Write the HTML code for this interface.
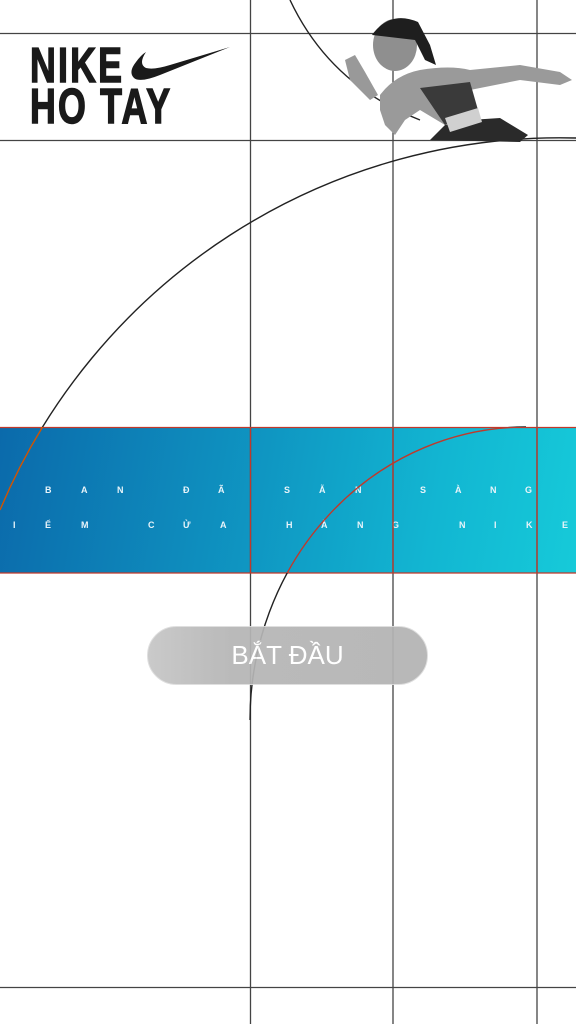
<!DOCTYPE html>
<html><head><meta charset="utf-8"><style>
html,body{margin:0;padding:0;background:#fff;}
#root{position:relative;width:576px;height:1024px;overflow:hidden;background:#fff;font-family:"Liberation Sans",sans-serif;}
.band{position:absolute;left:0;top:427px;width:576px;height:146px;background:linear-gradient(100deg,#0b6aab 0%,#0f96c2 45%,#12b6d2 75%,#16cad9 100%);}
.row{position:absolute;left:0;width:576px;color:#e8f4fa;font-size:9px;font-weight:bold;white-space:nowrap;}
.logo{position:absolute;left:30px;top:46px;font-family:"Liberation Sans",sans-serif;font-weight:bold;font-size:49px;line-height:41px;letter-spacing:3px;color:#1a1a1a;transform:scaleX(0.73);transform-origin:left top;white-space:nowrap;-webkit-text-stroke:1.5px #1a1a1a;}
.btn{position:absolute;left:147px;top:626px;width:281px;height:59px;border-radius:30px;background:linear-gradient(90deg,#c6c6c6 0%,#b5b5b5 30%,#b3b3b3 100%);opacity:0.93;border:1px solid #ddd;box-sizing:border-box;color:#fff;font-size:26px;text-align:center;line-height:57px;}
</style></head><body>
<div id="root">
<div class="band">
 <div class="row" style="top:58px">
  <span style="position:absolute;left:45px">B</span><span style="position:absolute;left:81px">A</span><span style="position:absolute;left:117px">N</span>
  <span style="position:absolute;left:183px">Đ</span><span style="position:absolute;left:218px">Ã</span>
  <span style="position:absolute;left:284px">S</span><span style="position:absolute;left:319px">Ẵ</span><span style="position:absolute;left:355px">N</span>
  <span style="position:absolute;left:420px">S</span><span style="position:absolute;left:455px">À</span><span style="position:absolute;left:490px">N</span><span style="position:absolute;left:525px">G</span>
 </div>
 <div class="row" style="top:93px">
  <span style="position:absolute;left:13px">I</span><span style="position:absolute;left:45px">Ể</span><span style="position:absolute;left:81px">M</span>
  <span style="position:absolute;left:148px">C</span><span style="position:absolute;left:183px">Ử</span><span style="position:absolute;left:220px">A</span>
  <span style="position:absolute;left:286px">H</span><span style="position:absolute;left:321px">À</span><span style="position:absolute;left:357px">N</span><span style="position:absolute;left:392px">G</span>
  <span style="position:absolute;left:459px">N</span><span style="position:absolute;left:494px">I</span><span style="position:absolute;left:526px">K</span><span style="position:absolute;left:562px">E</span>
 </div>
</div>
<svg width="576" height="1024" style="position:absolute;left:0;top:0">
 <g stroke="#444" stroke-width="1.3" fill="none">
  <line x1="0" y1="33.5" x2="576" y2="33.5"/>
  <line x1="0" y1="140.5" x2="576" y2="140.5"/>
  <line x1="0" y1="987.5" x2="576" y2="987.5"/>
  <line x1="250.5" y1="0" x2="250.5" y2="1024"/>
  <line x1="393" y1="0" x2="393" y2="1024"/>
  <line x1="537" y1="0" x2="537" y2="1024"/>
 </g>
 <g stroke="#c0392b" stroke-width="1.3" fill="none">
  <line x1="0" y1="427.5" x2="576" y2="427.5"/>
  <line x1="0" y1="573" x2="576" y2="573"/>
  <line x1="250.5" y1="427" x2="250.5" y2="573"/>
  <line x1="393" y1="427" x2="393" y2="573"/>
  <line x1="537" y1="427" x2="537" y2="573"/>
 </g>
 <defs>
  <clipPath id="bandclip"><rect x="0" y="427" width="576" height="146"/></clipPath>
  <clipPath id="outclip"><path d="M0 0H576V427H0Z M0 573H576V1024H0Z"/></clipPath>
 </defs>
 <g fill="none" stroke-width="1.4">
  <path d="M0 510 A607 607 0 0 1 576 138" stroke="#222" clip-path="url(#outclip)"/>
  <path d="M0 510 A607 607 0 0 1 576 138" stroke="#d35400" clip-path="url(#bandclip)"/>
  <path d="M250 720 A276 293 0 0 1 526 427" stroke="#222" clip-path="url(#outclip)"/>
  <path d="M250 720 A276 293 0 0 1 526 427" stroke="#c0392b" clip-path="url(#bandclip)"/>
  <path d="M290 0 Q330 85 420 120" stroke="#222"/>
 </g>
 <g>
  <path d="M430 140 L445 125 L470 120 L500 118 L528 135 L520 142 Z" fill="#2a2a2a"/>
  <path d="M380 95 Q395 75 420 70 Q450 65 470 70 L520 65 L560 72 L572 80 L560 85 L520 80 L470 90 L475 120 L445 125 L420 110 L405 120 L395 135 L385 125 L380 110 Z" fill="#9a9a9a"/>
  <path d="M420 88 L470 82 L478 110 L445 125 Z" fill="#3a3a3a"/>
  <path d="M445 118 L478 108 L482 122 L450 132 Z" fill="#d0d0d0"/>
  <ellipse cx="395" cy="45" rx="22" ry="26" fill="#8f8f8f"/>
  <path d="M372 35 Q390 10 418 22 L430 45 L436 65 L425 60 L415 40 Z" fill="#1e1e1e"/>
  <path d="M345 60 L355 55 L365 72 L378 95 L370 100 L350 80 Z" fill="#999"/>
 </g>
 <path d="M230 47 L160 75 Q140 83 134 78 Q128 72 136 62 Q141 55 146 52 Q138 64 146 68 Q154 70 170 65 Z" fill="#1a1a1a"/>
</svg>
<div class="logo">NIKE<br>HO TAY</div>
<div class="btn">BẮT ĐẦU</div>
</div>
</body></html>
